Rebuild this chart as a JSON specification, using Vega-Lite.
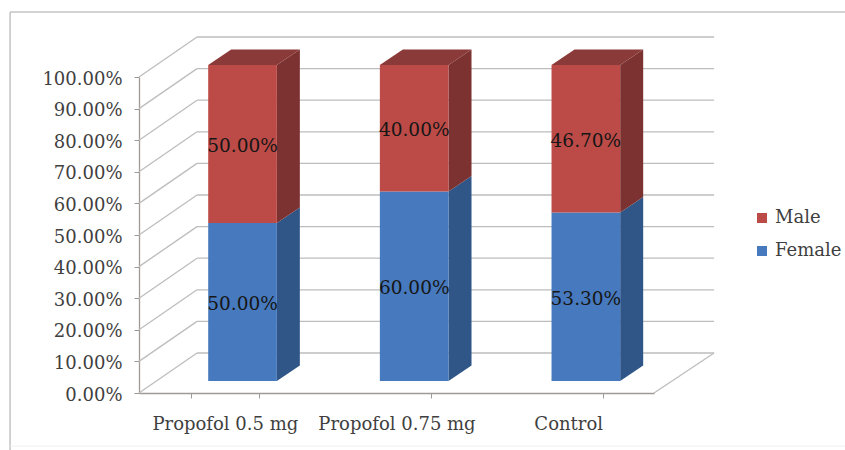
{
"$schema":"https://vega.github.io/schema/vega-lite/v6.json",
"autosize":{"type":"none"},
"padding":{"left":139,"top":77,"right":191,"bottom":57},
"width":515,"height":316,
"background":"white",
"config":{"view":{"stroke":null},"axisY":{"tickCount":11,"labelOverlap":false,"grid":false,"tickSize":5,"tickColor":"#a09a96","domainColor":"#a09a96","domainWidth":1.3,"labelFont":"DejaVu Serif","labelFontSize":18,"labelColor":"#3f3f3f","labelPadding":12,"labelOffset":2,"labelBound":false,"labelFlush":false}},
"datasets":{
"bars":[
{"group":"Propofol 0.5 mg","sex":"Female","value":0.5},
{"group":"Propofol 0.5 mg","sex":"Male","value":0.5},
{"group":"Propofol 0.75 mg","sex":"Female","value":0.6},
{"group":"Propofol 0.75 mg","sex":"Male","value":0.4},
{"group":"Control","sex":"Female","value":0.533},
{"group":"Control","sex":"Male","value":0.467}
],
"levels":[{"level":0,"back":0.1266},{"level":0.1,"back":0.2266},{"level":0.2,"back":0.3266},{"level":0.3,"back":0.4266},{"level":0.4,"back":0.5266},{"level":0.5,"back":0.6266},{"level":0.6,"back":0.7266},{"level":0.7,"back":0.8266},{"level":0.8,"back":0.9266},{"level":0.9,"back":1.0266},{"level":1,"back":1.1266}],
"faces":[
{"bar":"a","face":"sideF","u":0.803,"low":0.038,"high":0.538},{"bar":"a","face":"sideF","u":0.937,"low":0.087,"high":0.587},
{"bar":"a","face":"sideM","u":0.803,"low":0.538,"high":1.038},{"bar":"a","face":"sideM","u":0.937,"low":0.587,"high":1.087},
{"bar":"a","face":"top","u":0.403,"low":1.038,"high":1.038},{"bar":"a","face":"top","u":0.537,"low":1.038,"high":1.087},{"bar":"a","face":"top","u":0.803,"low":1.038,"high":1.087},{"bar":"a","face":"top","u":0.937,"low":1.087,"high":1.087},
{"bar":"b","face":"sideF","u":1.803,"low":0.038,"high":0.638},{"bar":"b","face":"sideF","u":1.937,"low":0.087,"high":0.687},
{"bar":"b","face":"sideM","u":1.803,"low":0.638,"high":1.038},{"bar":"b","face":"sideM","u":1.937,"low":0.687,"high":1.087},
{"bar":"b","face":"top","u":1.403,"low":1.038,"high":1.038},{"bar":"b","face":"top","u":1.537,"low":1.038,"high":1.087},{"bar":"b","face":"top","u":1.803,"low":1.038,"high":1.087},{"bar":"b","face":"top","u":1.937,"low":1.087,"high":1.087},
{"bar":"c","face":"sideF","u":2.803,"low":0.038,"high":0.571},{"bar":"c","face":"sideF","u":2.937,"low":0.087,"high":0.62},
{"bar":"c","face":"sideM","u":2.803,"low":0.571,"high":1.038},{"bar":"c","face":"sideM","u":2.937,"low":0.62,"high":1.087},
{"bar":"c","face":"top","u":2.403,"low":1.038,"high":1.038},{"bar":"c","face":"top","u":2.537,"low":1.038,"high":1.087},{"bar":"c","face":"top","u":2.803,"low":1.038,"high":1.087},{"bar":"c","face":"top","u":2.937,"low":1.087,"high":1.087}
]
},
"resolve":{"scale":{"x":"independent","color":"independent"}},
"layer":[
{"layer":[
{"data":{"values":[{"a":1}]},"mark":{"type":"rule","stroke":"#c4c4c4","strokeWidth":1.5},"encoding":{"x":{"datum":-0.751,"type":"quantitative","scale":{"domain":[0,3],"nice":false},"axis":null},"x2":{"datum":4.2},"y":{"datum":1.206,"type":"quantitative","scale":{"domain":[0,1],"nice":false},"title":null}}},
{"data":{"values":[{"a":1}]},"mark":{"type":"rule","stroke":"#c4c4c4","strokeWidth":1.5},"encoding":{"x":{"datum":-0.751,"type":"quantitative","axis":null},"y":{"datum":1.206,"type":"quantitative","title":null},"y2":{"datum":-0.19}}},
{"data":{"values":[{"a":1}]},"mark":{"type":"rule","stroke":"#f0f0f0","strokeWidth":1},"encoding":{"x":{"datum":-0.751,"type":"quantitative","axis":null},"x2":{"datum":4.2},"y":{"datum":-0.168,"type":"quantitative","title":null}}},
{"data":{"name":"levels"},"mark":{"type":"rule","stroke":"#bdbdbd","strokeWidth":1.3},"encoding":{"x":{"datum":0,"type":"quantitative","axis":null},"x2":{"datum":0.338},"y":{"field":"level","type":"quantitative","title":null},"y2":{"field":"back"}}},
{"data":{"name":"levels"},"mark":{"type":"rule","stroke":"#bdbdbd","strokeWidth":1.3},"encoding":{"x":{"datum":0.338,"type":"quantitative","axis":null},"x2":{"datum":3.35},"y":{"field":"back","type":"quantitative","title":null}}},
{"data":{"values":[{"level":0,"back":0.1266}]},"mark":{"type":"rule","stroke":"#bdbdbd","strokeWidth":1.3},"encoding":{"x":{"datum":3,"type":"quantitative","axis":null},"x2":{"datum":3.35},"y":{"field":"level","type":"quantitative","title":null},"y2":{"field":"back"}}},
{"data":{"name":"faces"},"mark":{"type":"area","interpolate":"linear"},"encoding":{
"x":{"field":"u","type":"quantitative","axis":null},
"y":{"field":"low","type":"quantitative","stack":null,"title":null},
"y2":{"field":"high"},
"detail":{"field":"bar"},
"color":{"field":"face","type":"nominal","legend":null,"scale":{"domain":["sideF","sideM","top"],"range":["#2f5687","#7c3230","#8a3a38"]}}}}
]},
{"layer":[
{"data":{"name":"bars"},"mark":{"type":"bar","xOffset":17.7,"yOffset":-12},"encoding":{
"x":{"field":"group","type":"nominal","sort":["Propofol 0.5 mg","Propofol 0.75 mg","Control"],"title":null,"scale":{"paddingInner":0.6,"paddingOuter":0.3},
"axis":{"labelAngle":0,"tickBand":"extent","tickSize":5,"tickColor":"#a09a96","domainColor":"#a09a96","domainWidth":1.3,"labelFont":"DejaVu Serif","labelFontSize":18,"labelColor":"#3f3f3f","labelPadding":17,"labelOverlap":false,"grid":false}},
"y":{"field":"value","type":"quantitative","stack":"zero","title":null,"scale":{"domain":[0,1],"nice":false},
"axis":{"format":".2%"}},
"order":{"field":"sex","sort":"ascending"},
"color":{"field":"sex","type":"nominal","title":null,"scale":{"domain":["Male","Female"],"range":["#bc4a47","#4679bd"]},
"legend":{"orient":"none","legendX":614,"legendY":132,"symbolType":"square","symbolSize":100,"labelFont":"DejaVu Serif","labelFontSize":18,"labelColor":"#3f3f3f","rowPadding":15,"labelOffset":4,"symbolStrokeWidth":0}}}},
{"data":{"name":"bars"},"mark":{"type":"text","xOffset":17.7,"yOffset":-10,"font":"DejaVu Serif","fontSize":18.5,"color":"#161616"},"encoding":{
"x":{"field":"group","type":"nominal","sort":["Propofol 0.5 mg","Propofol 0.75 mg","Control"]},
"y":{"field":"value","type":"quantitative","stack":"zero","bandPosition":0.5},
"order":{"field":"sex","sort":"ascending"},
"detail":{"field":"sex"},
"text":{"field":"value","type":"quantitative","format":".2%"}}}
]}
]
}
